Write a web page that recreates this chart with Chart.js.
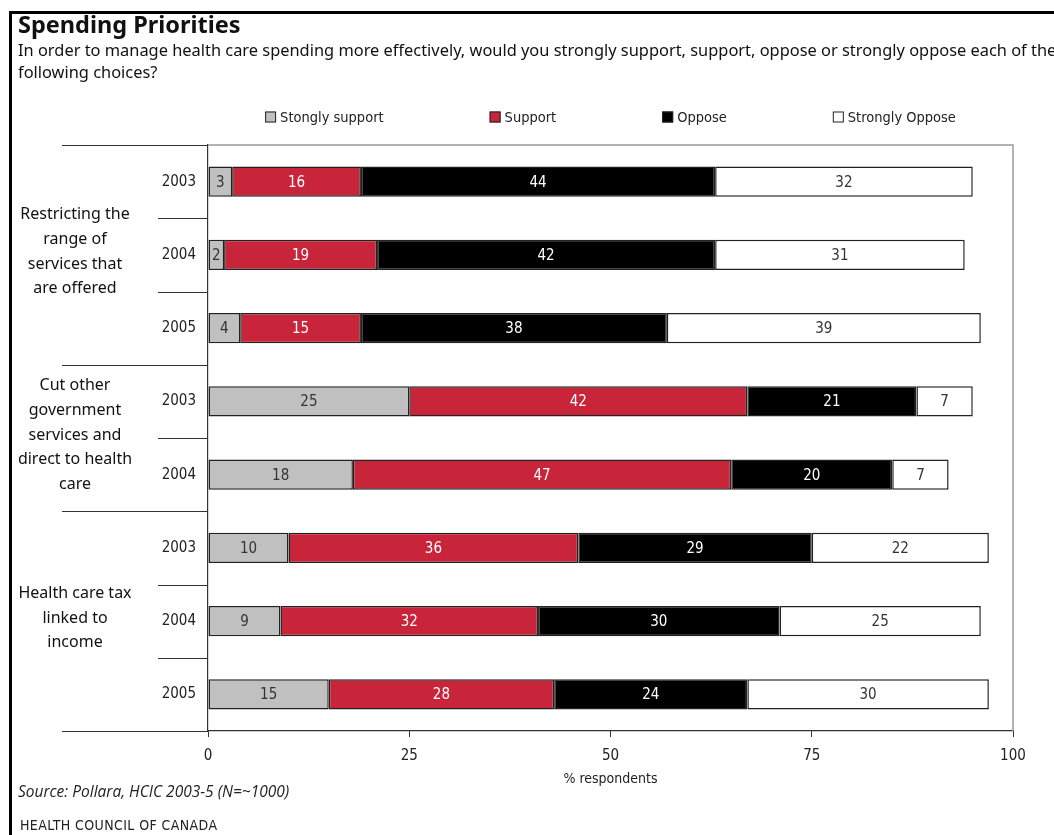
<!DOCTYPE html>
<html>
<head>
<meta charset="utf-8">
<title>Spending Priorities</title>
<script src="https://cdn.jsdelivr.net/npm/chart.js@4.4.1/dist/chart.umd.min.js"></script>
<style>
  body { margin: 0; background: #fff; width: 1054px; height: 835px; overflow: hidden; position: relative;
         font-family: "Noto Sans", "Open Sans", sans-serif; color: #111; }
  #frame { position: absolute; left: 9px; top: 11px; right: 0; bottom: 0;
           border-top: 3px solid #000; border-left: 3px solid #000; }
  #chart { position: absolute; left: 0; top: 0; }
  .title { position: absolute; left: 18px; top: 8px; font-size: 23.5px; font-weight: bold; white-space: nowrap; }
  .question { position: absolute; left: 18px; top: 39px; font-size: 16.4px; line-height: 22px; white-space: nowrap; }
  .source { position: absolute; left: 18px; top: 780px; font-size: 15.5px; font-style: italic; color: #222;
            font-family: "Open Sans", "Noto Sans", sans-serif; }
  .org { position: absolute; left: 20px; top: 817px; font-size: 14px; color: #222; letter-spacing: 0.4px;
         font-family: "DejaVu Sans Condensed", "Liberation Sans Narrow", sans-serif; }
</style>
</head>
<body>
<div id="frame"></div>
<canvas id="chart" width="1054" height="835"></canvas>
<div class="title">Spending Priorities</div>
<div class="question">In order to manage health care spending more effectively, would you strongly support, support, oppose or strongly oppose each of the<br>following choices?</div>
<div class="source">Source: Pollara, HCIC 2003-5 (N=~1000)</div>
<div class="org">HEALTH COUNCIL OF CANADA</div>
<script>
const rowLabels = ['2003', '2004', '2005', '2003', '2004', '2003', '2004', '2005'];
const groupNames = [
  ['Restricting the', 'range of', 'services that', 'are offered'],
  ['Cut other', 'government', 'services and', 'direct to health', 'care'],
  ['Health care tax', 'linked to', 'income']
];
const groupSizes = [3, 2, 3];

const seriesNames = ['Stongly support', 'Support', 'Oppose', 'Strongly Oppose'];
const stronglySupport = [3, 2, 4, 25, 18, 10, 9, 15];
const support = [16, 19, 15, 42, 47, 36, 32, 28];
const oppose = [44, 42, 38, 21, 20, 29, 30, 24];
const stronglyOppose = [32, 31, 39, 7, 7, 22, 25, 30];

const fills = ['#c0c0c0', '#c8243a', '#000000', '#ffffff'];
const labelColors = ['#333333', '#ffffff', '#ffffff', '#333333'];

const narrow = "'DejaVu Sans Condensed', 'Liberation Sans Narrow', 'DejaVu Sans', sans-serif";
Chart.defaults.font.family = narrow;
Chart.defaults.font.size = 15;
Chart.defaults.color = '#222';

// numbers in the middle of each segment
const segmentLabels = {
  id: 'segmentLabels',
  afterDatasetsDraw(chart) {
    const ctx = chart.ctx;
    ctx.save();
    ctx.font = '15px ' + narrow;
    ctx.textAlign = 'center';
    ctx.textBaseline = 'middle';
    chart.data.datasets.forEach((ds, i) => {
      chart.getDatasetMeta(i).data.forEach((bar, j) => {
        ctx.fillStyle = labelColors[i];
        ctx.fillText(ds.data[j], (bar.x + bar.base) / 2, bar.y + 1);
      });
    });
    ctx.restore();
  }
};

// frame lines, row separators and the question labels on the left
const sideLabels = {
  id: 'sideLabels',
  afterDraw(chart) {
    const ctx = chart.ctx;
    const area = chart.chartArea;
    const y = chart.scales.y;
    ctx.save();

    ctx.strokeStyle = '#999';
    ctx.lineWidth = 1.5;
    ctx.beginPath();
    ctx.moveTo(area.left, area.top);
    ctx.lineTo(area.right, area.top);
    ctx.lineTo(area.right, area.bottom);
    ctx.stroke();

    const step = y.getPixelForValue(1) - y.getPixelForValue(0);
    const groupEnds = [];
    let acc = 0;
    groupSizes.forEach(n => { acc += n; groupEnds.push(acc); });

    ctx.strokeStyle = '#333';
    ctx.lineWidth = 1.2;
    for (let k = 0; k <= rowLabels.length; k++) {
      const py = Math.round(y.getPixelForValue(k) - step / 2) + 0.5;
      const long = k === 0 || groupEnds.includes(k);
      ctx.beginPath();
      ctx.moveTo(long ? 62 : 158, py);
      ctx.lineTo(area.left, py);
      ctx.stroke();
    }

    ctx.fillStyle = '#111';
    ctx.font = '16px "Noto Sans", "Open Sans", sans-serif';
    ctx.textAlign = 'center';
    ctx.textBaseline = 'middle';
    let start = 0;
    groupNames.forEach((lines, g) => {
      const top = y.getPixelForValue(start) - step / 2;
      const bottom = y.getPixelForValue(start + groupSizes[g] - 1) + step / 2;
      const lh = 24.7;
      const mid = (top + bottom) / 2 - 3;
      lines.forEach((t, i) => {
        ctx.fillText(t, 75, mid + (i - (lines.length - 1) / 2) * lh);
      });
      start += groupSizes[g];
    });

    // legend row above the plot
    ctx.font = '14.5px ' + narrow;
    ctx.textAlign = 'left';
    const box = 11, gapText = 4, gapItem = 106;
    const widths = seriesNames.map(s => box + gapText + ctx.measureText(s).width);
    const total = widths.reduce((a, b) => a + b, 0) + gapItem * (widths.length - 1);
    let x = (area.left + area.right) / 2 - total / 2;
    const ly = 117;
    seriesNames.forEach((s, i) => {
      ctx.fillStyle = fills[i];
      ctx.fillRect(x, ly - box / 2, box, box);
      ctx.strokeStyle = '#222';
      ctx.lineWidth = 1;
      ctx.strokeRect(x + 0.5, ly - box / 2 + 0.5, box - 1, box - 1);
      ctx.fillStyle = '#222';
      ctx.fillText(s, x + box + gapText, ly + 1);
      x += widths[i] + gapItem;
    });
    ctx.restore();
  }
};

new Chart(document.getElementById('chart'), {
  type: 'bar',
  data: {
    labels: rowLabels,
    datasets: [stronglySupport, support, oppose, stronglyOppose].map((d, i) => ({
      label: seriesNames[i],
      data: d,
      backgroundColor: fills[i],
      borderColor: '#222',
      borderWidth: 1.5,
      borderSkipped: false,
      categoryPercentage: 1,
      barPercentage: 0.41
    }))
  },
  options: {
    indexAxis: 'y',
    responsive: false,
    animation: false,
    layout: { padding: { top: 145, right: 41, bottom: 44, left: 0 } },
    plugins: { legend: { display: false }, tooltip: { enabled: false } },
    scales: {
      x: {
        stacked: true,
        min: 0,
        max: 100,
        ticks: { stepSize: 25, padding: 10, color: '#222' },
        grid: { drawOnChartArea: false, tickLength: 6, color: '#333' },
        border: { color: '#333', width: 1.2 },
        title: { display: true, text: '% respondents', color: '#222', font: { size: 14 }, padding: { top: 0, bottom: 3 } },
        afterFit(scale) { scale.height = 60; }
      },
      y: {
        stacked: true,
        ticks: { padding: 12, color: '#222' },
        grid: { display: false, drawTicks: false },
        border: { color: '#333', width: 1.2 },
        afterFit(scale) { scale.width = 208; }
      }
    }
  },
  plugins: [segmentLabels, sideLabels]
});
</script>
</body>
</html>
